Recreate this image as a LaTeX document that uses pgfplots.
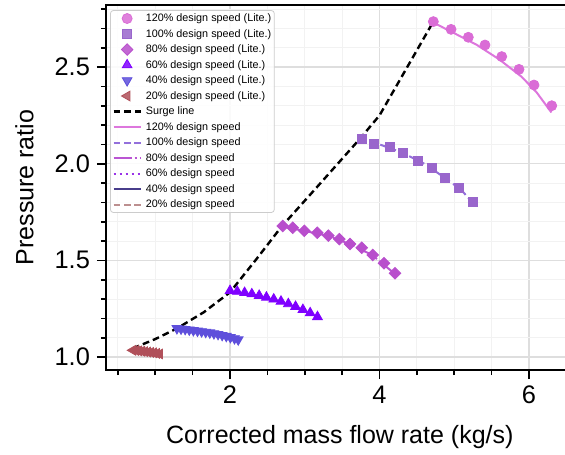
\documentclass[border=0pt]{standalone}
\usepackage{pgfplots}
\pgfplotsset{compat=1.18}
\usepackage{fontspec}
\setmainfont{Liberation Sans}
\definecolor{cA}{HTML}{DA6CD6}
\definecolor{cAl}{HTML}{DD77DD}
\definecolor{cB}{HTML}{9966CC}
\definecolor{cBl}{HTML}{9370DB}
\definecolor{cC}{HTML}{B84ECC}
\definecolor{cCl}{HTML}{BA55D3}
\definecolor{cD}{HTML}{7F00FF}
\definecolor{cDl}{HTML}{9932E8}
\definecolor{cE}{HTML}{5E4FDB}
\definecolor{cEl}{HTML}{483D8B}
\definecolor{cF}{HTML}{B0505A}
\definecolor{cFl}{HTML}{BC8F8F}
\begin{document}
\begin{tikzpicture}
\path[use as bounding box] (-53pt,-42pt) rectangle (229.5pt,185pt);
\begin{axis}[
  scale only axis,
  width=231.5pt, height=182.5pt,
  xmin=0.341, xmax=6.535,
  ymin=0.933, ymax=2.821,
  xtick={2,4,6}, ytick={1,1.5,2,2.5},
  minor xtick={0.5,1,1.5,2.5,3,3.5,4.5,5,5.5,6.5},
  minor ytick={1.1,1.2,1.3,1.4,1.6,1.7,1.8,1.9,2.1,2.2,2.3,2.4,2.6,2.7,2.8},
  grid=both,
  major grid style={draw=black!13, line width=0.75pt},
  minor grid style={draw=black!5, line width=0.5pt},
  axis line style={line width=1.2pt},
  tick align=outside,
  xtick pos=bottom, ytick pos=left,
  major tick length=4.5pt, minor tick length=2.5pt,
  tick style={black, line width=0.8pt},
  /pgf/number format/assume math mode=true,
  yticklabel style={/pgf/number format/.cd, fixed, fixed zerofill, precision=1},
  tick label style={font=\fontsize{12.7}{14}\selectfont},
  xlabel={Corrected mass flow rate (kg/s)},
  ylabel={Pressure ratio},
  every axis x label/.style={at={(axis description cs:0.505,0)}, anchor=base, yshift=-36.5pt, font=\fontsize{12.5}{14}\selectfont},
  every axis y label/.style={at={(axis description cs:0,0.5)}, anchor=center, rotate=90, yshift=40.75pt, font=\fontsize{12.5}{14}\selectfont},
  legend image code/.code={\draw[mark repeat=2,mark phase=2,#1] plot coordinates {(0pt,0pt) (6.75pt,0pt) (13.5pt,0pt)};},
  legend cell align=left,
  legend style={at={(axis description cs:0.0087,0.986)}, anchor=north west,
    draw=black!20, rounded corners=1.5pt, fill=white, fill opacity=0.85, text opacity=1,
    font=\fontsize{5.4}{6}\selectfont, inner sep=1pt, row sep=1.75pt,
    nodes={inner sep=0.5pt, text height=4pt, text depth=1pt},
    /tikz/every odd column/.append style={column sep=1.5pt}},
]
% markers (Lite.)
\addplot[only marks, mark=*, mark size=2.5pt, mark options={draw=cA, fill=cA}] coordinates {
(4.72,2.735) (4.957,2.695) (5.188,2.654) (5.411,2.614) (5.635,2.554) (5.866,2.488) (6.067,2.407) (6.304,2.300)};
\addlegendentry{120\% design speed (Lite.)}
\addplot[only marks, mark=square*, mark size=2.25pt, mark options={draw=cB, fill=cB}] coordinates {
(3.76,2.126) (3.93,2.105) (4.14,2.085) (4.31,2.058) (4.52,2.015) (4.70,1.976) (4.88,1.926) (5.06,1.873) (5.25,1.803)};
\addlegendentry{100\% design speed (Lite.)}
\addplot[only marks, mark=square*, mark size=2.05pt, mark options={draw=cC, fill=cC, rotate=45}] coordinates {
(2.705,1.678) (2.839,1.669) (2.994,1.653) (3.168,1.643) (3.315,1.628) (3.462,1.610) (3.605,1.585) (3.762,1.565) (3.909,1.528) (4.060,1.485) (4.207,1.433)};
\addlegendentry{80\% design speed (Lite.)}
\addplot[only marks, mark=triangle*, mark size=2.8pt, mark options={draw=cD, fill=cD}] coordinates {
(2.0,1.343) (2.097,1.339) (2.195,1.333) (2.292,1.326) (2.39,1.318) (2.487,1.309) (2.585,1.299) (2.682,1.288) (2.78,1.275) (2.877,1.261) (2.975,1.245) (3.072,1.228) (3.17,1.208)};
\addlegendentry{60\% design speed (Lite.)}
\addplot[only marks, mark=triangle*, mark size=2.8pt, mark options={draw=cE, fill=cE, rotate=180}] coordinates {
(1.29,1.148) (1.345,1.146) (1.40,1.144) (1.455,1.141) (1.51,1.138) (1.565,1.135) (1.62,1.132) (1.675,1.129) (1.73,1.126) (1.785,1.122) (1.84,1.118) (1.895,1.113) (1.95,1.108) (2.005,1.102) (2.06,1.096) (2.11,1.090)};
\addlegendentry{40\% design speed (Lite.)}
\addplot[only marks, mark=triangle*, mark size=2.8pt, mark options={draw=cF, fill=cF, rotate=90}] coordinates {
(0.70,1.035) (0.74,1.034) (0.78,1.032) (0.82,1.030) (0.86,1.028) (0.90,1.026) (0.94,1.024) (0.98,1.022) (1.02,1.019) (1.06,1.016)};
\addlegendentry{20\% design speed (Lite.)}
% surge line
\addplot[black, line width=1.2pt, dash pattern=on 3.4pt off 2pt, mark=none] coordinates {
(0.70,1.045) (1.0,1.093) (1.29,1.148) (1.65,1.232) (2.0,1.335) (2.35,1.505) (2.69,1.675) (3.2,1.895) (3.74,2.13) (4.0,2.25) (4.72,2.735)};
\addlegendentry{Surge line}
% speed lines
\addplot[cAl, line width=1pt, mark=none] coordinates {
(4.72,2.73) (5.0,2.675) (5.3,2.615) (5.6,2.54) (5.9,2.45) (6.1,2.37) (6.3,2.265)};
\addlegendentry{120\% design speed}
\addplot[cBl, line width=1pt, dash pattern=on 3.2pt off 2pt, mark=none] coordinates {
(3.74,2.125) (4.0,2.100) (4.3,2.058) (4.6,2.000) (4.9,1.920) (5.1,1.862) (5.25,1.795)};
\addlegendentry{100\% design speed}
\addplot[cCl, line width=1pt, dash pattern=on 9pt off 1.5pt on 1pt off 1.5pt, mark=none] coordinates {
(2.70,1.675) (3.0,1.652) (3.3,1.628) (3.6,1.585) (3.9,1.528) (4.2,1.432)};
\addlegendentry{80\% design speed}
\addplot[cDl, line width=1pt, dash pattern=on 1pt off 2pt, mark=none] coordinates {
(2.0,1.340) (2.3,1.324) (2.6,1.296) (2.9,1.257) (3.17,1.205)};
\addlegendentry{60\% design speed}
\addplot[cEl, line width=1pt, mark=none] coordinates {
(1.29,1.145) (1.5,1.136) (1.7,1.125) (1.9,1.110) (2.11,1.087)};
\addlegendentry{40\% design speed}
\addplot[cFl, line width=1pt, dash pattern=on 3.2pt off 2pt, mark=none] coordinates {
(0.70,1.034) (0.88,1.027) (1.06,1.015)};
\addlegendentry{20\% design speed}
\end{axis}
\end{tikzpicture}
\end{document}
